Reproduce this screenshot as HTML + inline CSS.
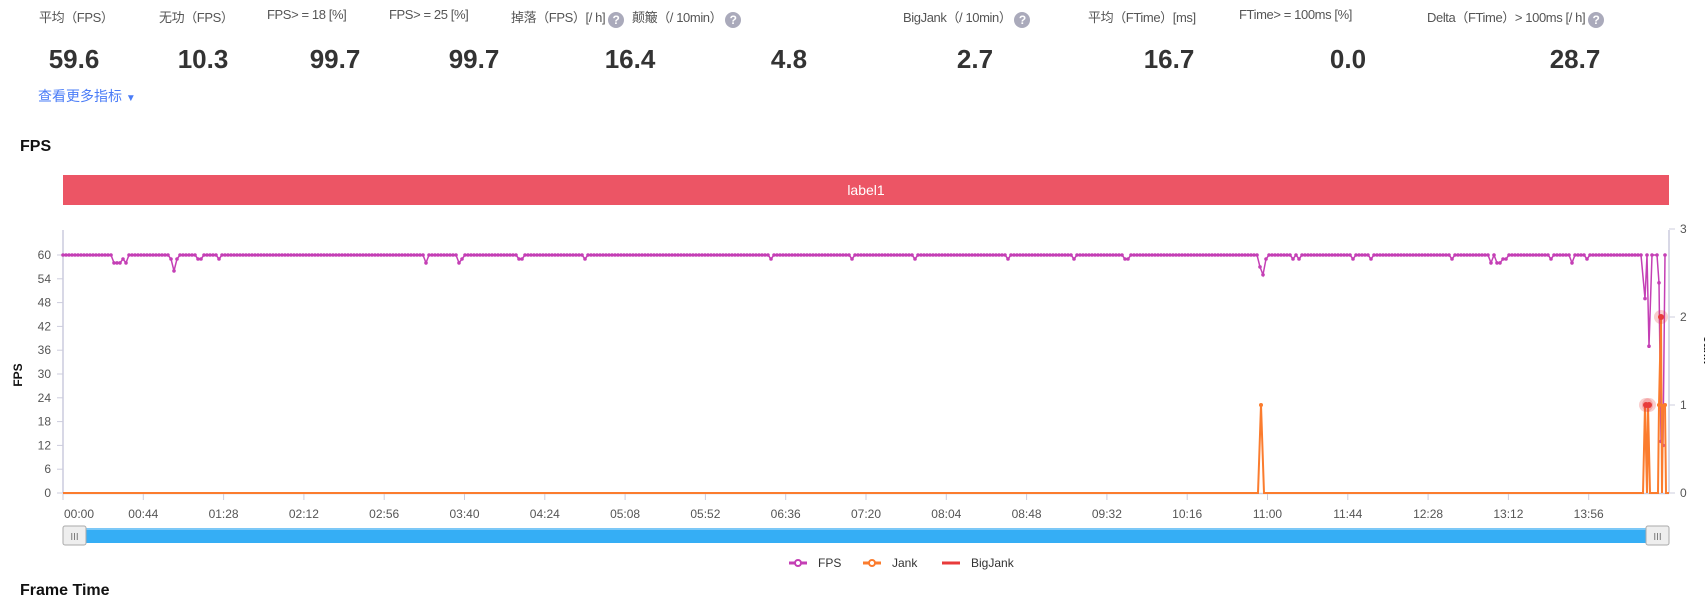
<!DOCTYPE html>
<html><head><meta charset="utf-8"><style>
body{margin:0;width:1705px;height:595px;overflow:hidden;background:#fff;font-family:"Liberation Sans","Noto Sans CJK SC",sans-serif;position:relative}
.l{position:absolute;top:7px;font-size:13px;letter-spacing:-0.4px;color:#555;white-space:nowrap}
.q{display:inline-block;width:16px;height:16px;border-radius:50%;background:#aab;color:#fff;font-size:12px;text-align:center;line-height:16px;font-weight:bold;vertical-align:-2px;margin-left:3px;letter-spacing:0}
.v{position:absolute;top:44px;font-size:26px;font-weight:bold;color:#333;transform:translateX(-50%)}
</style></head><body>
<div class="l" style="left:39px">平均（FPS）</div>
<div class="l" style="left:159px">无功（FPS）</div>
<div class="l" style="left:267px">FPS&gt; = 18 [%]</div>
<div class="l" style="left:389px">FPS&gt; = 25 [%]</div>
<div class="l" style="left:511px">掉落（FPS）[/ h]<span class="q">?</span></div>
<div class="l" style="left:632px">颠簸（/ 10min）<span class="q">?</span></div>
<div class="l" style="left:903px">BigJank（/ 10min）<span class="q">?</span></div>
<div class="l" style="left:1088px">平均（FTime）[ms]</div>
<div class="l" style="left:1239px">FTime&gt; = 100ms [%]</div>
<div class="l" style="left:1427px">Delta（FTime）&gt; 100ms [/ h]<span class="q">?</span></div>
<div class="v" style="left:74px">59.6</div>
<div class="v" style="left:203px">10.3</div>
<div class="v" style="left:335px">99.7</div>
<div class="v" style="left:474px">99.7</div>
<div class="v" style="left:630px">16.4</div>
<div class="v" style="left:789px">4.8</div>
<div class="v" style="left:975px">2.7</div>
<div class="v" style="left:1169px">16.7</div>
<div class="v" style="left:1348px">0.0</div>
<div class="v" style="left:1575px">28.7</div>
<div style="position:absolute;left:38px;top:86px;font-size:14px;color:#4a7cf7">查看更多指标 <span style="font-size:10px">▼</span></div>
<div style="position:absolute;left:20px;top:138px;font-size:16px;font-weight:bold;color:#111">FPS</div>
<div style="position:absolute;left:20px;top:582px;font-size:16px;font-weight:bold;color:#111">Frame Time</div>
<div style="position:absolute;left:63px;top:175px;width:1606px;height:30px;background:#ec5565;color:#fff;font-size:14px;text-align:center;line-height:30px">label1</div>
<svg id="s" width="1705" height="595" style="position:absolute;left:0;top:0" font-family="Liberation Sans, sans-serif"></svg>
<script>
var s=document.getElementById('s'),h='';
function Y(v){return 493-v*238/60}
function JY(v){return 493-v*88}
h+='<line x1="63" y1="230" x2="63" y2="493" stroke="#ccd" stroke-width="1.5"/>';
h+='<line x1="1669" y1="230" x2="1669" y2="493" stroke="#ccd" stroke-width="1.5"/>';
h+='<line x1="63" y1="493.5" x2="1669" y2="493.5" stroke="#ccd" stroke-width="1.5"/>';
for(var i=0;i<=10;i++){var y=Y(i*6);h+='<line x1="57" y1="'+y+'" x2="63" y2="'+y+'" stroke="#ccd"/><text x="51" y="'+(y+4)+'" font-size="12" fill="#555" text-anchor="end">'+(i*6)+'</text>';}
for(var i=0;i<=3;i++){var y=JY(i);h+='<line x1="1669" y1="'+y+'" x2="1675" y2="'+y+'" stroke="#ccd"/><text x="1680" y="'+(y+4)+'" font-size="12" fill="#555">'+i+'</text>';}
h+='<text transform="translate(22,375) rotate(-90)" font-size="12" font-weight="bold" fill="#111" text-anchor="middle">FPS</text>';
h+='<text transform="translate(1704,350) rotate(90)" font-size="12" font-weight="bold" fill="#111" text-anchor="middle">Jank</text>';
var lab=['00:00','00:44','01:28','02:12','02:56','03:40','04:24','05:08','05:52','06:36','07:20','08:04','08:48','09:32','10:16','11:00','11:44','12:28','13:12','13:56'];
for(var i=0;i<lab.length;i++){var x=63+i*80.3;h+='<line x1="'+x+'" y1="494" x2="'+x+'" y2="500" stroke="#ccd"/><text x="'+(i==0?x+1:x)+'" y="518" font-size="12" fill="#555" text-anchor="'+(i==0?'start':'middle')+'">'+lab[i]+'</text>';}
var dips={114:58,117:58,120:58,123:59,126:58,172:59,174:56,178:59,198:59,201:59,220:59,425:58,459:58,461:59,519:59,521:59,586:59,770:59,852:59,916:59,1008:59,1074:59,1124:59,1129:59,1260:57,1262:55,1267:59,1292:59,1294:59,1299:59,1353:59,1370:59,1372:59,1453:59,1490:58,1492:58,1496:58,1500:58,1503:59,1507:59,1552:59,1571:58,1586:59,1587:59};
var pts=[];
for(var x=63;x<=1643;x+=3){var v=dips[x]||60;for(var k in dips){if(Math.abs(k-x)<2)v=dips[k];}pts.push([x,v]);}
pts.push([1645,49],[1647,60],[1649,37],[1652,60],[1657,60],[1659,53],[1661,13],[1663,12],[1665,60]);
var d='M'+pts.map(function(p){return p[0]+','+Y(p[1]).toFixed(1)}).join(' L');
h+='<path d="'+d+'" fill="none" stroke="#c43fb5" stroke-width="1.5"/>';
pts.forEach(function(p){h+='<circle cx="'+p[0]+'" cy="'+Y(p[1]).toFixed(1)+'" r="1.8" fill="#c43fb5"/>';});
var jd='M63,493 L1258,493 L1261,405 L1264,493 L1643,493 L1645,405 L1647,493 L1648,405 L1650,493 L1658,493 L1659,405 L1661,317 L1662,493 L1663,405 L1665,405 L1666,493 L1669,493';
h+='<path d="'+jd+'" fill="none" stroke="#fb7c2e" stroke-width="2"/>';
h+='<circle cx="1261" cy="405" r="2" fill="#fb7c2e"/><circle cx="1665" cy="405" r="2" fill="#fb7c2e"/><circle cx="1659" cy="405" r="2" fill="#fb7c2e"/>';
[[1646,405],[1649,405],[1661,317]].forEach(function(p){h+='<circle cx="'+p[0]+'" cy="'+p[1]+'" r="7" fill="#e83a3a" opacity="0.25"/><circle cx="'+p[0]+'" cy="'+p[1]+'" r="3" fill="#e83a3a"/>';});
h+='<rect x="63" y="528" width="1606" height="15" fill="#35aef5"/><rect x="63" y="528" width="1606" height="2" fill="#7cc8f7"/>';
[63,1646].forEach(function(x){h+='<rect x="'+x+'" y="526" width="23" height="19" rx="2" fill="#eee" stroke="#aaa"/><text x="'+(x+11.5)+'" y="540" font-size="10" fill="#777" text-anchor="middle">III</text>';});
function leg(x,c,t,dot){h+='<line x1="'+x+'" y1="563" x2="'+(x+18)+'" y2="563" stroke="'+c+'" stroke-width="3"/>'+(dot?'<circle cx="'+(x+9)+'" cy="563" r="3" fill="#fff" stroke="'+c+'" stroke-width="2"/>':'')+'<text x="'+(x+29)+'" y="567" font-size="12" fill="#333">'+t+'</text>';}
leg(789,'#c43fb5','FPS',1);leg(863,'#fb7c2e','Jank',1);leg(942,'#e83a3a','BigJank',0);
s.innerHTML=h;
</script>
</body></html>
